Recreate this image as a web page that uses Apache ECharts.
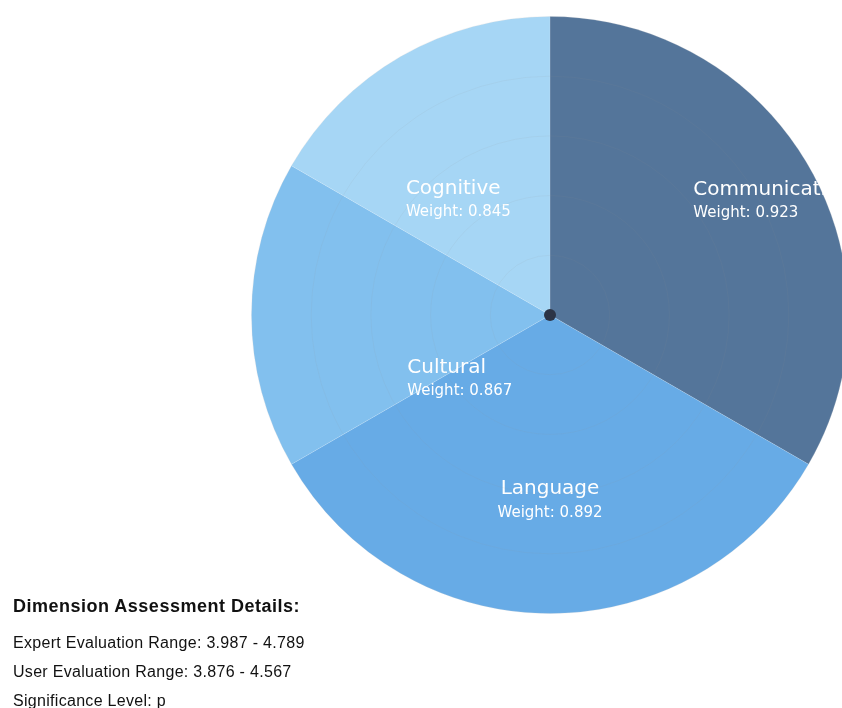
<!DOCTYPE html>
<html>
<head>
<meta charset="utf-8">
<script src="https://cdn.jsdelivr.net/npm/echarts@6/dist/echarts.min.js"></script>
<style>
  html, body { margin: 0; padding: 0; background: #fff; overflow: hidden; }
  #chart { position: absolute; left: 0; top: 0; width: 842px; height: 708px; }
  #details { position: absolute; left: 13px; top: 596px; font-family: "Liberation Sans", Arial, sans-serif; color: #111; }
  #details h4 { margin: 0 0 11px 0; font-size: 18px; font-weight: bold; line-height: 21px; letter-spacing: 0.5px; }
  #details p { margin: 0; font-size: 16px; line-height: 29px; letter-spacing: 0.3px; white-space: nowrap; }
</style>
</head>
<body>
<div id="chart"></div>
<div id="details">
  <h4>Dimension Assessment Details:</h4>
  <p>Expert Evaluation Range: 3.987 - 4.789</p>
  <p>User Evaluation Range: 3.876 - 4.567</p>
  <p>Significance Level: p</p>
</div>
<script>
// Evaluation dimensions, drawn clockwise from twelve o'clock
const dimensions = ['Communication', 'Language', 'Cultural', 'Cognitive'];
const weights = [0.923, 0.892, 0.867, 0.845];
// Relative angular share of each sector
const sliceShare = [2, 2, 1, 1];

const sliceColors = ['#54759a', '#67abe6', '#82c0ee', '#a6d6f5'];
// Label block alignment and nudges from the default in-sector anchor
const labelAlign = ['left', 'center', 'left', 'left'];
const labelNudge = [[11.5, -38.5], [0, 33], [9.5, 64], [-68, 16.5]];

const chart = echarts.init(document.getElementById('chart'), null, { renderer: 'canvas' });

const pieData = dimensions.map((name, i) => ({
  name: name,
  value: sliceShare[i],
  weight: weights[i],
  itemStyle: { color: sliceColors[i] }
}));

const labelFont = '"DejaVu Sans", sans-serif';

chart.setOption({
  animation: false,
  polar: { center: [550, 315], radius: 298.5 },
  angleAxis: {
    type: 'value', min: 0, max: 360, startAngle: 90,
    axisLine: { show: false }, axisTick: { show: false },
    axisLabel: { show: false }, splitLine: { show: false }
  },
  radiusAxis: {
    type: 'value', min: 0, max: 5, interval: 1, z: 3,
    axisLine: { show: false }, axisTick: { show: false },
    axisLabel: { show: false },
    splitLine: { show: true, lineStyle: { color: 'rgba(140,140,140,0.09)', width: 1 } }
  },
  series: [
    {
      type: 'pie',
      center: [550, 315],
      radius: [0, 298.5],
      startAngle: 90,
      clockwise: true,
      silent: true,
      z: 2,
      itemStyle: { borderColor: 'rgba(255,255,255,0.25)', borderWidth: 0.5 },
      label: {
        show: true,
        position: 'inside',
        color: '#fff',
        fontFamily: labelFont,
        formatter: p => '{n|' + p.name + '}\n{w|Weight: ' + p.data.weight.toFixed(3) + '}',
        rich: {
          n: { fontSize: 20, lineHeight: 25, color: '#fff', fontFamily: labelFont },
          w: { fontSize: 15, lineHeight: 22, color: '#fff', fontFamily: labelFont }
        }
      },
      labelLine: { show: false },
      labelLayout: p => ({
        align: labelAlign[p.dataIndex],
        verticalAlign: 'middle',
        dx: labelNudge[p.dataIndex][0],
        dy: labelNudge[p.dataIndex][1]
      }),
      data: pieData
    },
    {
      type: 'scatter',
      coordinateSystem: 'polar',
      symbol: 'circle',
      symbolSize: 12,
      z: 5,
      silent: true,
      itemStyle: { color: '#2c3446', opacity: 1 },
      data: [[0, 0]]
    }
  ]
});
</script>
</body>
</html>
